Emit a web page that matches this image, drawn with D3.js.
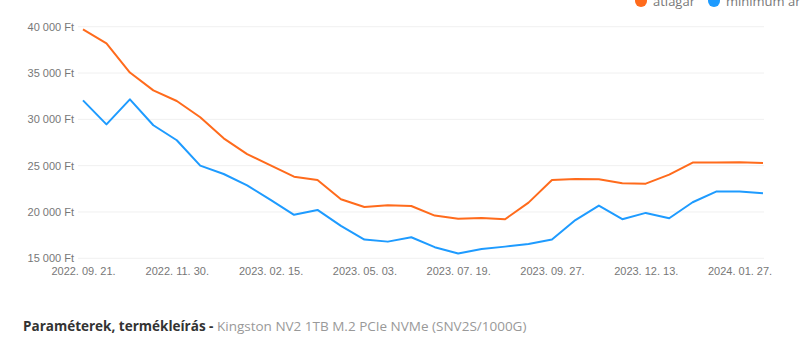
<!DOCTYPE html>
<html>
<head>
<meta charset="utf-8">
<script src="https://cdn.jsdelivr.net/npm/d3@7"></script>
<style>
  html, body { margin: 0; padding: 0; background: #fff; }
  svg { display: block; }
</style>
</head>
<body>
<svg id="chart" width="800" height="342"></svg>
<script>
const categories = [
  "2022. 09. 21.", "2022. 10. 08.", "2022. 10. 26.", "2022. 11. 12.",
  "2022. 11. 30.", "2022. 12. 19.", "2023. 01. 07.", "2023. 01. 26.",
  "2023. 02. 15.", "2023. 03. 06.", "2023. 03. 25.", "2023. 04. 13.",
  "2023. 05. 03.", "2023. 05. 22.", "2023. 06. 10.", "2023. 06. 29.",
  "2023. 07. 19.", "2023. 08. 06.", "2023. 08. 23.", "2023. 09. 10.",
  "2023. 09. 27.", "2023. 10. 16.", "2023. 11. 04.", "2023. 11. 23.",
  "2023. 12. 13.", "2023. 12. 24.", "2024. 01. 04.", "2024. 01. 16.",
  "2024. 01. 27.", "2024. 02. 08."
];
const avgPrice = [
  39700, 38200, 35050, 33130, 31980, 30220, 27950, 26250,
  25030, 23810, 23460, 21370, 20540, 20720, 20650, 19610,
  19280, 19360, 19220, 21010, 23460, 23570, 23530, 23100,
  23060, 24030, 25330, 25330, 25370, 25300
];
const minPrice = [
  32050, 29460, 32160, 29360, 27740, 25000, 24100, 22880,
  21300, 19690, 20220, 18500, 17020, 16800, 17270, 16200,
  15510, 16010, 16260, 16550, 17020, 19130, 20690, 19220,
  19900, 19320, 21050, 22200, 22200, 22020
];
const yTicks = [15000, 20000, 25000, 30000, 35000, 40000];
const seriesNames = ["átlagár", "minimum ár"];
const seriesColors = ["#ff6b1c", "#1e9bff"];
const footerBold = "Paraméterek, termékleírás - ";
const footerText = "Kingston NV2 1TB M.2 PCIe NVMe (SNV2S/1000G)";

const svg = d3.select("#chart");
const x = d3.scalePoint().domain(categories).range([83, 763]);
const y = d3.scaleLinear().domain([15000, 40000]).range([258.3, 26.7]);

const loc = d3.formatLocale({decimal: ",", thousands: " ", grouping: [3], currency: ["", " Ft"]});
const fmt = loc.format(",");

// gridlines
svg.append("g").selectAll("line").data(yTicks).join("line")
  .attr("x1", 78).attr("x2", 764)
  .attr("y1", d => y(d)).attr("y2", d => y(d))
  .attr("stroke", "#f0f0f0").attr("stroke-width", 1);

// y axis
const yAxis = svg.append("g").attr("transform", "translate(74,0)")
  .call(d3.axisLeft(y).tickValues(yTicks).tickSize(0).tickPadding(0).tickFormat(d => fmt(d) + " Ft"));
yAxis.select(".domain").remove();
yAxis.selectAll("text").attr("font-family", "Liberation Sans, Arial, sans-serif")
  .attr("font-size", 11).attr("fill", "#777");

// x axis
const xAxis = svg.append("g").attr("transform", "translate(0,264)")
  .call(d3.axisBottom(x).tickValues(categories.filter((d, i) => i % 4 === 0)).tickSize(0).tickPadding(3));
xAxis.select(".domain").remove();
xAxis.selectAll("text").attr("font-family", "Liberation Sans, Arial, sans-serif")
  .attr("font-size", 11).attr("fill", "#777");

// lines
const line = d3.line().x((d, i) => x(categories[i])).y(d => y(d));
[avgPrice, minPrice].forEach((s, k) => {
  svg.append("path").datum(s)
    .attr("d", line)
    .attr("fill", "none")
    .attr("stroke", seriesColors[k])
    .attr("stroke-width", 2)
    .attr("stroke-linejoin", "round");
});

// legend (the reference crop cuts it at the top edge)
const legendX = [641, 714];
seriesNames.forEach((n, k) => {
  svg.append("circle").attr("cx", legendX[k]).attr("cy", 1).attr("r", 6).attr("fill", seriesColors[k]);
  svg.append("text").attr("x", legendX[k] + 12).attr("y", 6)
    .attr("font-family", "Open Sans, sans-serif").attr("font-size", 13).attr("fill", "#777")
    .text(n);
});

// footer
const ft = svg.append("text").attr("x", 23).attr("y", 331)
  .attr("font-family", "Open Sans, sans-serif").attr("font-size", 13.5);
ft.append("tspan").attr("font-weight", "bold").attr("fill", "#333").text(footerBold);
ft.append("tspan").attr("fill", "#999").text(footerText);
</script>
</body>
</html>
